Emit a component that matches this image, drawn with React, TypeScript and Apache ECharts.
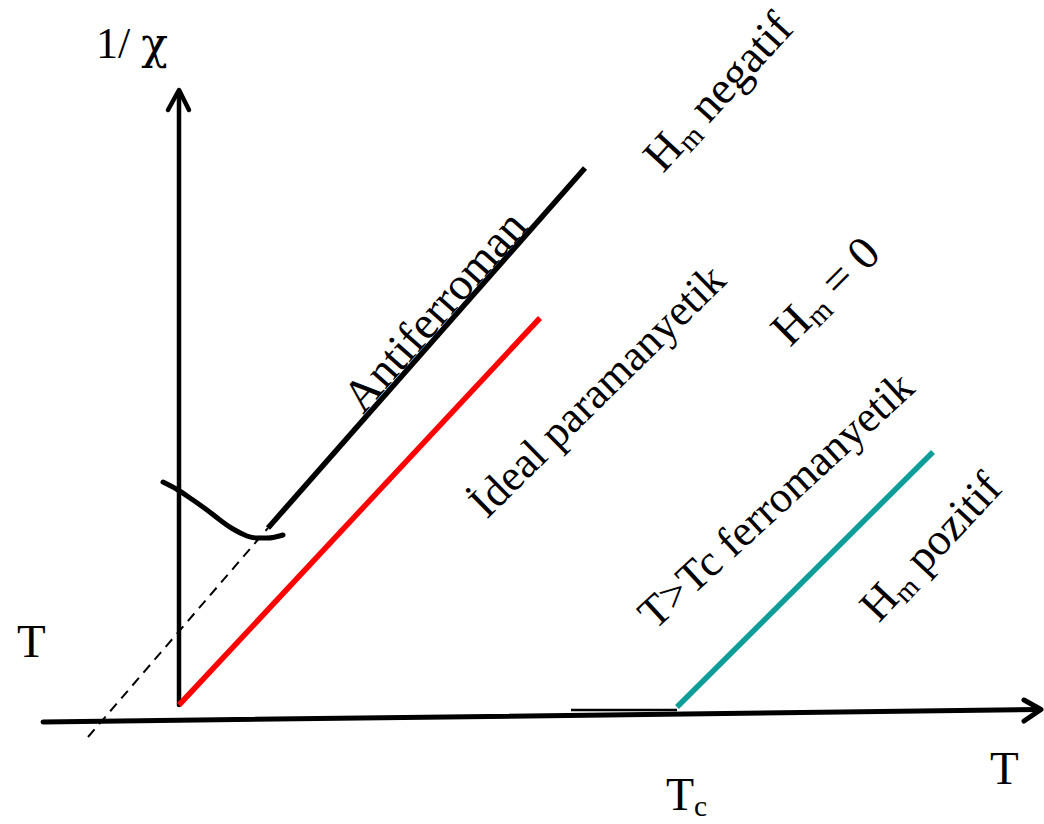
import React, { useEffect, useRef } from "react";
import * as echarts from "echarts";

const FONT = '"Liberation Serif", "Times New Roman", Times, serif';
const GREEK_FONT = '"DejaVu Serif", "Liberation Serif", serif';
const BLACK = "#000000";
const RED = "#ff0000";
const TEAL = "#0f9d9a";

// Diagram units: T along x, 1/χ along y (origin where the 1/χ axis meets the T axis)
const X_RANGE = [-17.9, 86.5];
const Y_RANGE = [-10.4, 72.0];

// Axes with their arrow heads
const tAxis = [[-13.6, -0.2], [86.1, 1.05]];
const tArrow = [[84.5, 2.0], [86.2, 1.05], [84.5, -0.1]];
const chiAxis = [[0, 1.5], [0, 62.9]];
const chiArrow = [[-1.1, 61.0], [0, 63.0], [1.0, 61.0]];

// 1/χ curves
const idealPara = [[0, 1.5], [36.1, 40.2]];
const antiferro = [[8.9, 19.2], [40.6, 55.2]];
const antiferroLowT = [
  [-1.6, 23.8], [-0.1, 23.0], [1.4, 22.0], [2.8, 21.0], [4.1, 20.0],
  [5.4, 19.1], [6.8, 18.4], [7.8, 18.2], [8.8, 18.2], [10.4, 18.5],
];
const antiferroExtrap = [[-9.1, -1.7], [8.9, 19.2]];
const ferroBelowTc = [[39.2, 1.0], [49.8, 1.0]];
const ferroAboveTc = [[49.8, 1.3], [75.4, 26.8]];

// Text labels: baseline start (diagram units), angle in degrees, font size
type Part = { t: string; sub?: boolean; greek?: boolean };
type Label = { parts: Part[]; at: number[]; angle: number; size: number };

const labels: Label[] = [
  { parts: [{ t: "1/ " }, { t: "χ", greek: true }], at: [-8.3, 66.2], angle: 0, size: 44 },
  { parts: [{ t: "T" }], at: [-16.2, 6.3], angle: 0, size: 47 },
  { parts: [{ t: "T" }], at: [81.1, -6.4], angle: 0, size: 47 },
  { parts: [{ t: "T" }, { t: "c", sub: true }], at: [48.7, -9.0], angle: 0, size: 46 },
  { parts: [{ t: "Antiferroman" }], at: [18.4, 30.5], angle: 48.5, size: 46 },
  { parts: [{ t: "İdeal paramanyetik" }], at: [30.8, 20.0], angle: 44.5, size: 44 },
  { parts: [{ t: "T>Tc ferromanyetik" }], at: [47.6, 8.9], angle: 42.5, size: 44 },
  { parts: [{ t: "H" }, { t: "m", sub: true }, { t: " negatif" }], at: [48.4, 54.6], angle: 47.5, size: 46 },
  { parts: [{ t: "H" }, { t: "m", sub: true }, { t: " = 0" }], at: [61.1, 37.2], angle: 45, size: 47 },
  { parts: [{ t: "H" }, { t: "m", sub: true }, { t: " pozitif" }], at: [70.0, 9.6], angle: 47, size: 45 },
];

function lineSeries(data: number[][], color: string, width: number, extra: any = {}) {
  return {
    type: "line",
    data,
    symbol: "none",
    silent: true,
    smooth: extra.smooth ?? false,
    lineStyle: { color, width, type: extra.type ?? "solid", cap: extra.cap ?? "round", join: "round" },
    z: extra.z ?? 2,
  };
}

export default function App() {
  const ref = useRef<HTMLDivElement>(null);

  useEffect(() => {
    if (!ref.current) return;
    const chart = echarts.init(ref.current, null, { renderer: "svg" });
    chart.setOption({
      animation: false,
      backgroundColor: "#ffffff",
      grid: { left: 0, right: 0, top: 0, bottom: 0, containLabel: false },
      xAxis: { type: "value", min: X_RANGE[0], max: X_RANGE[1], show: false },
      yAxis: { type: "value", min: Y_RANGE[0], max: Y_RANGE[1], show: false },
      series: [
        lineSeries(antiferroExtrap, BLACK, 2, { type: [10, 7], z: 1, cap: "butt" }),
        lineSeries(tAxis, BLACK, 5),
        lineSeries(tArrow, BLACK, 5),
        lineSeries(chiAxis, BLACK, 4.5),
        lineSeries(chiArrow, BLACK, 4.5),
        lineSeries(ferroBelowTc, BLACK, 2.5, { cap: "butt" }),
        lineSeries(idealPara, RED, 5.5, { z: 3, cap: "butt" }),
        lineSeries(antiferro, BLACK, 5.5, { cap: "butt" }),
        lineSeries(antiferroLowT, BLACK, 5, { smooth: 0.4 }),
        lineSeries(ferroAboveTc, TEAL, 5.5, { cap: "butt" }),
      ],
    });

    const ctx = document.createElement("canvas").getContext("2d")!;
    const measure = (t: string, font: string) => {
      ctx.font = font;
      return ctx.measureText(t).width;
    };

    const graphic = labels.map((l) => {
      const [px, py] = chart.convertToPixel({ gridIndex: 0 }, l.at) as number[];
      let cursor = 0;
      const children = l.parts.map((p) => {
        const fs = p.sub ? l.size * 0.64 : l.size;
        const base = p.sub ? l.size * 0.13 : 0;
        const font = `${fs}px ${p.greek ? GREEK_FONT : FONT}`;
        const child = {
          type: "text",
          x: cursor,
          y: base - 0.3375 * fs,
          style: {
            text: p.t,
            font,
            fill: BLACK,
            align: "left",
            verticalAlign: "middle",
          },
        };
        cursor += measure(p.t, font);
        return child;
      });
      return {
        type: "group",
        x: px,
        y: py,
        rotation: (l.angle * Math.PI) / 180,
        silent: true,
        children,
      };
    });
    chart.setOption({ graphic });

    return () => chart.dispose();
  }, []);

  return (
    <div
      ref={ref}
      style={{ position: "fixed", left: 0, top: 0, width: 1044, height: 824, background: "#fff" }}
    />
  );
}
